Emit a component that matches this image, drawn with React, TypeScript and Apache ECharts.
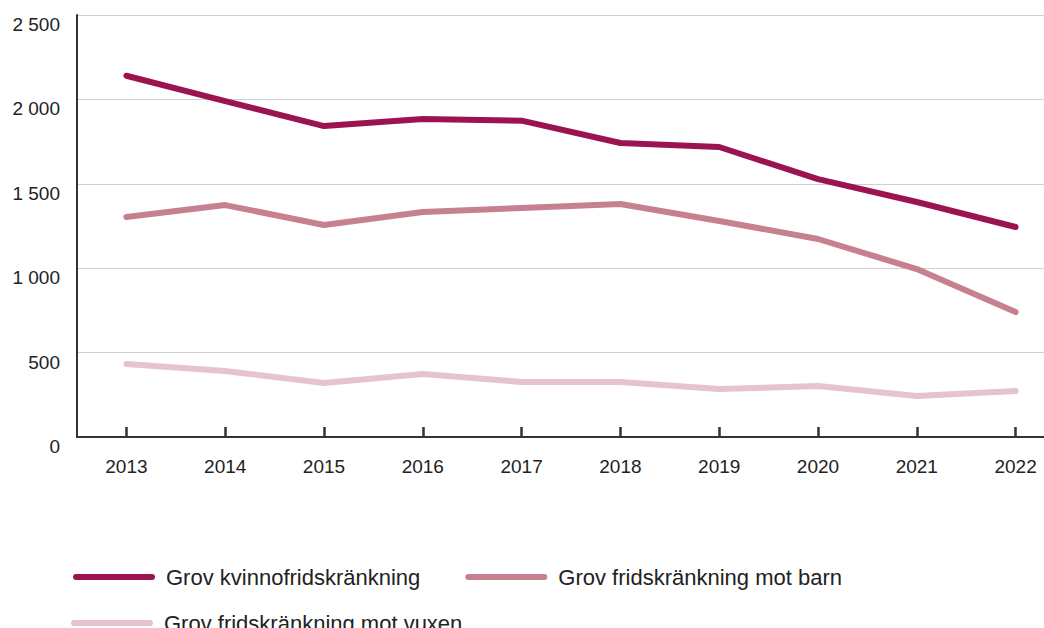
import React, { useEffect, useRef } from "react";
import * as echarts from "echarts";

const years = ["2013", "2014", "2015", "2016", "2017", "2018", "2019", "2020", "2021", "2022"];
const kvinnofrid = [2140, 1990, 1842, 1884, 1874, 1742, 1718, 1528, 1392, 1244];
const motBarn = [1303, 1374, 1256, 1333, 1357, 1380, 1280, 1173, 995, 740];
const motVuxen = [432, 391, 320, 373, 326, 326, 284, 302, 243, 272];
const seriesNames = ["Grov kvinnofridskränkning", "Grov fridskränkning mot barn", "Grov fridskränkning mot vuxen"];
const colors = ["#9b1351", "#c6808f", "#e7c3cd"];

const FONT = "'Liberation Sans', Arial, sans-serif";
const ICON = "path://M3,0 L79,0 A3,3 0 0 1 79,6 L3,6 A3,3 0 0 1 3,0 Z";

export default function App() {
  const ref = useRef<HTMLDivElement>(null);
  useEffect(() => {
    if (!ref.current) return;
    const chart = echarts.init(ref.current, undefined, { renderer: "svg" });
    const data = [kvinnofrid, motBarn, motVuxen];
    const legendText = {
      fontFamily: FONT,
      fontSize: 22,
      color: "#222",
      padding: [0, 0, 0, 6],
      lineHeight: 24,
    };
    chart.setOption({
      animation: false,
      grid: { left: 77, top: 15, height: 422, width: 988 },
      xAxis: {
        type: "category",
        data: years,
        boundaryGap: true,
        axisLine: { lineStyle: { color: "#333", width: 2 } },
        axisTick: { show: true, alignWithLabel: true, inside: true, length: 10, lineStyle: { color: "#333", width: 2.5 } },
        axisLabel: { fontFamily: FONT, fontSize: 19, color: "#222", margin: 20 },
        splitLine: { show: false },
      },
      yAxis: {
        type: "value",
        min: 0,
        max: 2500,
        interval: 500,
        axisLine: { show: true, lineStyle: { color: "#333", width: 2 } },
        axisTick: { show: false },
        axisLabel: {
          fontFamily: FONT,
          fontSize: 19,
          color: "#222",
          margin: 17,
          verticalAlign: "top",
          formatter: (v: number) => String(v).replace(/\B(?=(\d{3})+(?!\d))/g, " "),
        },
        splitLine: { lineStyle: { color: "#cfcfcf", width: 1 } },
      },
      legend: [
        {
          data: [seriesNames[0], seriesNames[1]],
          left: 68,
          top: 560,
          orient: "horizontal",
          icon: ICON,
          itemWidth: 82,
          itemHeight: 6,
          itemGap: 45,
          textStyle: legendText,
        },
        {
          data: [seriesNames[2]],
          left: 66,
          top: 606,
          orient: "horizontal",
          icon: ICON,
          itemWidth: 82,
          itemHeight: 6,
          textStyle: legendText,
        },
      ],
      series: data.map((d, i) => ({
        name: seriesNames[i],
        type: "line",
        data: d,
        symbol: "none",
        showSymbol: false,
        z: 3 - i,
        lineStyle: { color: colors[i], width: 6, cap: "round", join: "round" },
        itemStyle: { color: colors[i] },
      })),
    });
    return () => chart.dispose();
  }, []);
  return (
    <div style={{ width: 1044, height: 628, position: "absolute", left: 0, top: 0, overflow: "hidden" }}>
      <div ref={ref} style={{ width: 1070, height: 628 }} />
    </div>
  );
}
